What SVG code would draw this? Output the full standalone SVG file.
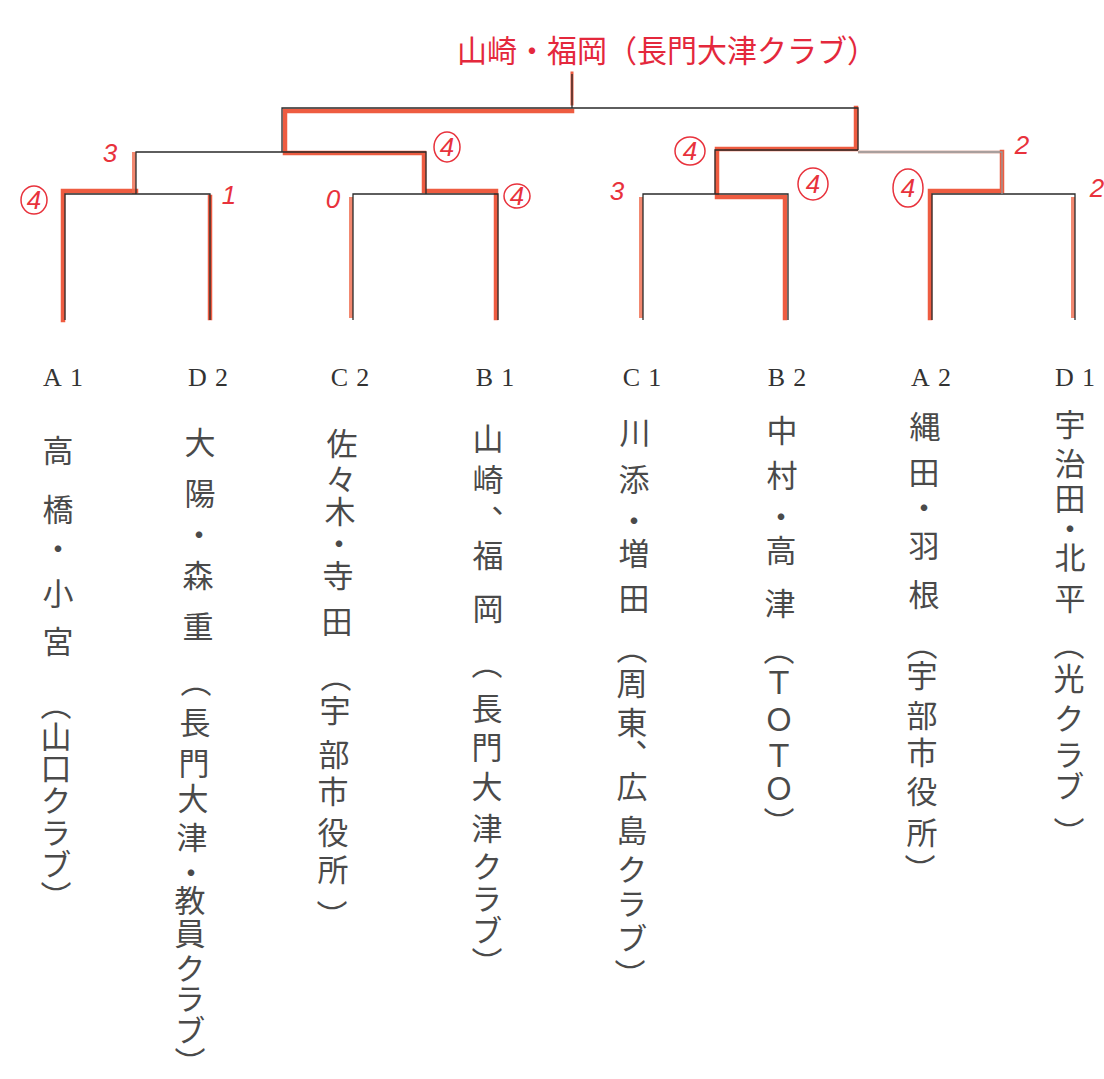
<svg xmlns="http://www.w3.org/2000/svg" width="1104" height="1079" viewBox="0 0 1104 1079">
<style>
.bk{stroke:#2a2a2a;stroke-width:1.3;fill:none}
.rd{stroke:#ec4a2c;stroke-width:4.5;fill:none;stroke-linecap:square;opacity:0.9}
.rl{stroke:#ef6a4c;stroke-width:4;fill:none;opacity:0.8}
.rf{stroke:#d9b2a8;stroke-width:3;fill:none}
.lab{font-family:"Liberation Serif",serif;font-size:26px;fill:#333;letter-spacing:8px;text-anchor:middle}
.nm{font-family:"Noto Sans CJK JP",sans-serif;font-size:31px;fill:#4a4a4a;writing-mode:vertical-rl;text-anchor:middle}
.sc{font-family:"Liberation Sans",sans-serif;font-size:26px;fill:#e8323c;font-style:italic;text-anchor:middle}
.ci{fill:none;stroke:#e8323c;stroke-width:1.5}
.ttl{font-family:"Noto Sans CJK JP",sans-serif;font-size:31px;fill:#e4283c}
</style>
<rect width="1104" height="1079" fill="#ffffff"/>

<g id="connectors">
  <path class="rd" d="M63,320 V191 H136"/>
  <path class="rl" d="M134,194 V152"/>
  <path class="rd" d="M210,318 V197"/>
  <path class="rl" d="M351,318 V197"/>
  <path class="rd" d="M496,318 V191 H424 V153 H285 V111 H572"/>
  <path class="rd" d="M572,104 V73" style="stroke-width:3"/>
  <path class="rl" d="M641,318 V197"/>
  <path class="rd" d="M785,318 V197 H717 V149 H856 V108"/>
  <path class="rf" d="M858,152 H1002"/>
  <path class="rd" d="M930,318 V191 H1002 V152"/>
  <path class="rl" d="M1073,318 V197"/>
  <path class="bk" d="M65,320 V194 H210 V320"/>
  <path class="bk" d="M353,320 V194 H498 V320"/>
  <path class="bk" d="M643,320 V194 H788 V320"/>
  <path class="bk" d="M932,320 V194 H1075 V320"/>
  <path class="bk" d="M136,194 V152 H426 V194"/>
  <path class="bk" d="M715,194 V150 H858"/>
  <path class="bk" d="M1002,194 V152 H858" style="stroke:#999"/>
  <path class="bk" d="M282,152 V108 H858 V150"/>
  <path class="bk" d="M572,108 V74"/>
</g>

<g id="champion">
  <text class="ttl" x="457" y="62" textLength="420" lengthAdjust="spacingAndGlyphs">山崎・福岡（長門大津クラブ）</text>
</g>

<g id="scores">
  <ellipse class="ci" cx="34" cy="200" rx="13" ry="14"/><text class="sc" x="34" y="209">4</text>
  <text class="sc" x="110" y="162">3</text>
  <text class="sc" x="229" y="204">1</text>
  <text class="sc" x="333" y="208">0</text>
  <ellipse class="ci" cx="447" cy="147" rx="13" ry="15"/><text class="sc" x="447" y="156">4</text>
  <ellipse class="ci" cx="517" cy="196" rx="13" ry="12"/><text class="sc" x="517" y="205">4</text>
  <text class="sc" x="617" y="200">3</text>
  <ellipse class="ci" cx="690" cy="151" rx="15" ry="14"/><text class="sc" x="690" y="160">4</text>
  <ellipse class="ci" cx="813" cy="184" rx="15" ry="16"/><text class="sc" x="813" y="193">4</text>
  <ellipse class="ci" cx="908" cy="188" rx="15" ry="19"/><text class="sc" x="908" y="197">4</text>
  <text class="sc" x="1022" y="154">2</text>
  <text class="sc" x="1097" y="197">2</text>
</g>

<g id="team-A1">
  <text class="lab" x="67" y="386">A1</text>
  <text class="nm"><tspan x="58" y="450">高</tspan><tspan x="58" y="509">橋</tspan><tspan x="58" y="548">・</tspan><tspan x="58" y="593">小</tspan><tspan x="58" y="641">宮</tspan><tspan x="56" y="704">（</tspan><tspan x="56" y="736">山</tspan><tspan x="56" y="768">口</tspan><tspan x="56" y="800">ク</tspan><tspan x="56" y="832">ラ</tspan><tspan x="56" y="864">ブ</tspan><tspan x="56" y="896">）</tspan></text>
</g>

<g id="team-D2">
  <text class="lab" x="212" y="386">D2</text>
  <text class="nm"><tspan x="200" y="442">大</tspan><tspan x="200" y="493">陽</tspan><tspan x="199" y="534">・</tspan><tspan x="198" y="575">森</tspan><tspan x="198" y="626">重</tspan><tspan x="196" y="681">（</tspan><tspan x="195" y="722">長</tspan><tspan x="194" y="763">門</tspan><tspan x="193" y="798">大</tspan><tspan x="192" y="837">津</tspan><tspan x="191" y="872">・</tspan><tspan x="190" y="900">教</tspan><tspan x="190" y="933">員</tspan><tspan x="190" y="968">ク</tspan><tspan x="190" y="998">ラ</tspan><tspan x="190" y="1030">ブ</tspan><tspan x="190" y="1062">）</tspan></text>
</g>

<g id="team-C2">
  <text class="lab" x="354" y="386">C2</text>
  <text class="nm"><tspan x="342" y="443">佐</tspan><tspan x="341" y="479">々</tspan><tspan x="340" y="511">木</tspan><tspan x="339" y="543">・</tspan><tspan x="338" y="575">寺</tspan><tspan x="337" y="621">田</tspan><tspan x="336" y="676">（</tspan><tspan x="335" y="710">宇</tspan><tspan x="334" y="754">部</tspan><tspan x="333" y="791">市</tspan><tspan x="333" y="832">役</tspan><tspan x="333" y="869">所</tspan><tspan x="332" y="915">）</tspan></text>
</g>

<g id="team-B1">
  <text class="lab" x="499" y="386">B1</text>
  <text class="nm"><tspan x="488" y="438">山</tspan><tspan x="488" y="479">崎</tspan><tspan x="488" y="520">、</tspan><tspan x="488" y="555">福</tspan><tspan x="488" y="608">岡</tspan><tspan x="487" y="663">（</tspan><tspan x="487" y="708">長</tspan><tspan x="487" y="747">門</tspan><tspan x="487" y="786">大</tspan><tspan x="487" y="828">津</tspan><tspan x="487" y="866">ク</tspan><tspan x="487" y="898">ラ</tspan><tspan x="487" y="930">ブ</tspan><tspan x="487" y="962">）</tspan></text>
</g>

<g id="team-C1">
  <text class="lab" x="646" y="386">C1</text>
  <text class="nm"><tspan x="635" y="432">川</tspan><tspan x="634" y="479">添</tspan><tspan x="634" y="520">・</tspan><tspan x="634" y="553">増</tspan><tspan x="634" y="598">田</tspan><tspan x="632" y="648">（</tspan><tspan x="632" y="683">周</tspan><tspan x="632" y="722">東</tspan><tspan x="632" y="754">、</tspan><tspan x="632" y="786">広</tspan><tspan x="632" y="830">島</tspan><tspan x="632" y="869">ク</tspan><tspan x="632" y="903">ラ</tspan><tspan x="632" y="938">ブ</tspan><tspan x="630" y="974">）</tspan></text>
</g>

<g id="team-B2">
  <text class="lab" x="791" y="386">B2</text>
  <text class="nm"><tspan x="782" y="430">中</tspan><tspan x="782" y="475">村</tspan><tspan x="781" y="516">・</tspan><tspan x="781" y="550">高</tspan><tspan x="780" y="603">津</tspan><tspan x="779" y="649">（</tspan><tspan x="779" y="683">Ｔ</tspan><tspan x="779" y="720">Ｏ</tspan><tspan x="779" y="756">Ｔ</tspan><tspan x="779" y="789">Ｏ</tspan><tspan x="779" y="822">）</tspan></text>
</g>

<g id="team-A2">
  <text class="lab" x="935" y="386">A2</text>
  <text class="nm"><tspan x="925" y="426">縄</tspan><tspan x="924" y="472">田</tspan><tspan x="924" y="507">・</tspan><tspan x="924" y="545">羽</tspan><tspan x="924" y="594">根</tspan><tspan x="922" y="644">（</tspan><tspan x="922" y="675">宇</tspan><tspan x="922" y="715">部</tspan><tspan x="922" y="752">市</tspan><tspan x="922" y="791">役</tspan><tspan x="922" y="832">所</tspan><tspan x="920" y="869">）</tspan></text>
</g>

<g id="team-D1">
  <text class="lab" x="1079" y="386">D1</text>
  <text class="nm"><tspan x="1070" y="424">宇</tspan><tspan x="1070" y="463">治</tspan><tspan x="1070" y="498">田</tspan><tspan x="1070" y="528">・</tspan><tspan x="1070" y="557">北</tspan><tspan x="1070" y="598">平</tspan><tspan x="1069" y="644">（</tspan><tspan x="1069" y="678">光</tspan><tspan x="1069" y="718">ク</tspan><tspan x="1069" y="754">ラ</tspan><tspan x="1069" y="786">ブ</tspan><tspan x="1069" y="832">）</tspan></text>
</g>
</svg>
